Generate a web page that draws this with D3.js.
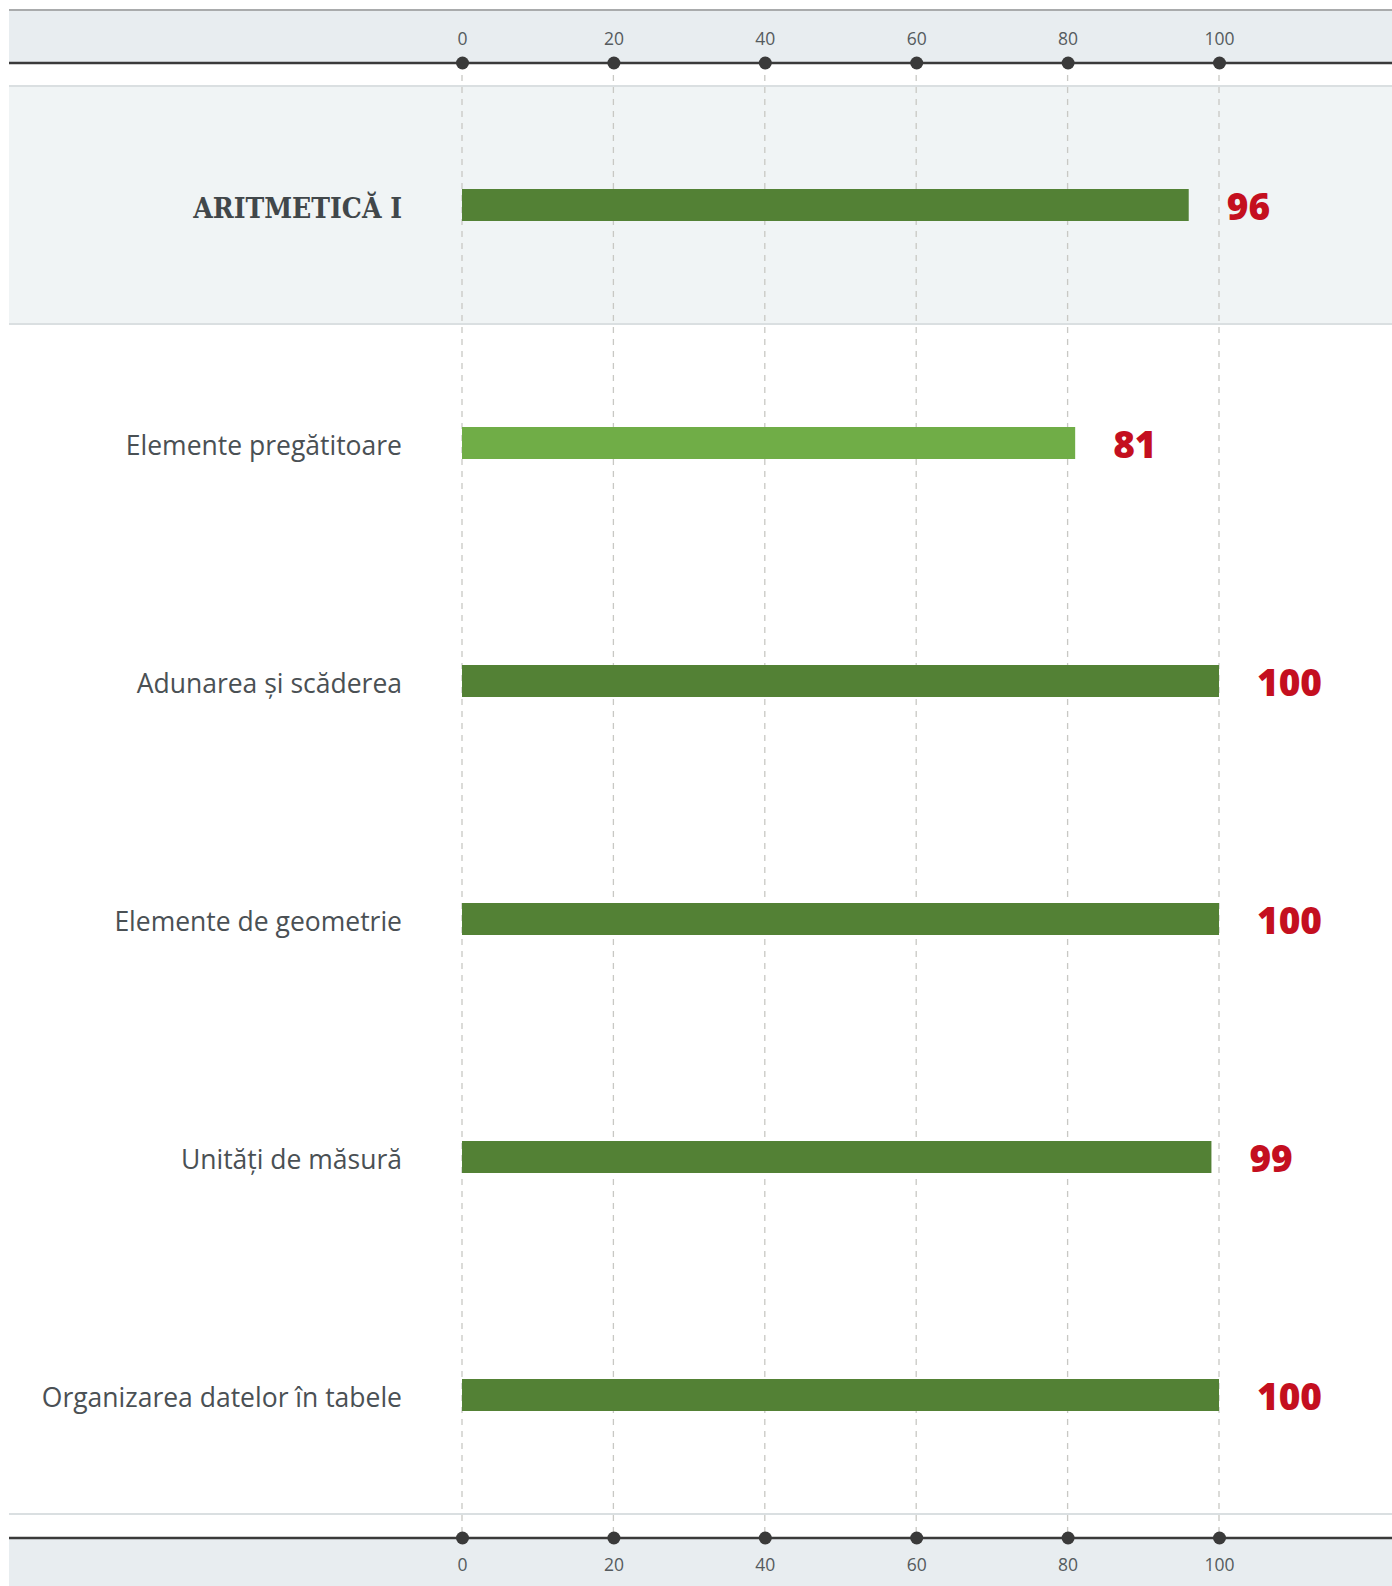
<!DOCTYPE html>
<html>
<head>
<meta charset="utf-8">
<script src="https://cdn.jsdelivr.net/npm/d3@7"></script>
<style>
  body { margin: 0; background: #fff; }
  svg { display: block; }
</style>
</head>
<body>
<div id="chart"></div>
<script>
// chart data
var categories = ["ARITMETICĂ I", "Elemente pregătitoare", "Adunarea și scăderea",
    "Elemente de geometrie", "Unități de măsură", "Organizarea datelor în tabele"];
var values = [96, 81, 100, 100, 99, 100];
var headerRows = ["ARITMETICĂ I"];
var tickValues = [0, 20, 40, 60, 80, 100];

var width = 1392, height = 1586,
    left = 9, right = 1392,
    axisTopY = 63, axisBottomY = 1538;

var svg = d3.select("#chart")
    .append("svg")
    .attr("width", width)
    .attr("height", height);

var x = d3.scaleLinear()
    .domain([0, 100])
    .range([462, 1219]);

var y = d3.scaleBand()
    .domain(categories)
    .range([86, 1514])
    .padding(0);

var color = d3.scaleThreshold()
    .domain([90])
    .range(["#70ad47", "#538135"]);

// header / footer backgrounds
svg.append("rect")
    .attr("x", left).attr("y", 10)
    .attr("width", right - left).attr("height", axisTopY - 10)
    .style("fill", "#e8edf0");
svg.append("line")
    .attr("x1", left).attr("x2", right)
    .attr("y1", 10).attr("y2", 10)
    .style("stroke", "#a9abac").style("stroke-width", 2);
svg.append("rect")
    .attr("x", left).attr("y", axisBottomY)
    .attr("width", right - left).attr("height", height - axisBottomY)
    .style("fill", "#e8edf0");

// highlighted group rows
headerRows.forEach(function (c) {
    svg.append("rect")
        .attr("x", left).attr("y", y(c))
        .attr("width", right - left).attr("height", y.bandwidth())
        .style("fill", "#f0f4f5");
});

// row separators
[y.range()[0], y(categories[1]), y.range()[1]].forEach(function (v) {
    svg.append("line")
        .attr("x1", left).attr("x2", right)
        .attr("y1", v).attr("y2", v)
        .style("stroke", "#dadfe1").style("stroke-width", 2);
});

// dashed grid
svg.append("g")
    .selectAll("line")
    .data(tickValues)
    .enter()
    .append("line")
    .attr("x1", function (d) { return x(d); })
    .attr("x2", function (d) { return x(d); })
    .attr("y1", axisTopY)
    .attr("y2", axisBottomY)
    .style("stroke", "#c8c8c4")
    .style("stroke-width", 1.3)
    .style("stroke-dasharray", "6,6");

// axes
function drawAxis(yPos, axis, pad) {
    svg.append("line")
        .attr("x1", left).attr("x2", right)
        .attr("y1", yPos).attr("y2", yPos)
        .style("stroke", "#3a3a3a").style("stroke-width", 2.5);
    var g = svg.append("g")
        .attr("transform", "translate(0," + yPos + ")")
        .call(axis.tickValues(tickValues).tickSize(0).tickPadding(pad));
    g.select(".domain").remove();
    g.selectAll(".tick text")
        .style("font-family", "'Open Sans', sans-serif")
        .style("font-size", "17.5px")
        .style("fill", "#555b5e");
    g.selectAll(".tick")
        .append("circle")
        .attr("r", 6.5)
        .style("fill", "#3a3a3a");
}
drawAxis(axisTopY, d3.axisTop(x), 18);
drawAxis(axisBottomY, d3.axisBottom(x), 21);

// bars
var barH = 32;
svg.append("g")
    .selectAll("rect")
    .data(categories)
    .enter()
    .append("rect")
    .attr("x", x(0))
    .attr("y", function (d) { return y(d) + y.bandwidth() / 2 - barH / 2; })
    .attr("width", function (d, i) { return x(values[i]) - x(0); })
    .attr("height", barH)
    .style("fill", function (d, i) { return color(values[i]); });

// category labels
svg.append("g")
    .selectAll("text")
    .data(categories)
    .enter()
    .append("text")
    .attr("x", 402)
    .attr("y", function (d) { return y(d) + y.bandwidth() / 2 + 3; })
    .attr("dy", ".35em")
    .style("text-anchor", "end")
    .style("font-family", function (d) {
        return headerRows.indexOf(d) >= 0 ? "'DejaVu Serif Condensed', 'DejaVu Serif', serif" : "'Open Sans', sans-serif";
    })
    .style("font-weight", function (d) { return headerRows.indexOf(d) >= 0 ? "bold" : "normal"; })
    .style("font-size", function (d) { return headerRows.indexOf(d) >= 0 ? "28px" : "26.5px"; })
    .style("fill", function (d) { return headerRows.indexOf(d) >= 0 ? "#41474a" : "#4a5054"; })
    .text(function (d) { return d; });

// value labels
svg.append("g")
    .selectAll("text")
    .data(categories)
    .enter()
    .append("text")
    .attr("x", function (d, i) { return x(values[i]) + 38; })
    .attr("y", function (d) { return y(d) + y.bandwidth() / 2 + 2; })
    .attr("dy", ".36em")
    .style("font-family", "'Open Sans', sans-serif")
    .style("font-weight", "800")
    .style("font-size", "37px")
    .style("fill", "#c40f1f")
    .text(function (d, i) { return values[i]; });
</script>
</body>
</html>
